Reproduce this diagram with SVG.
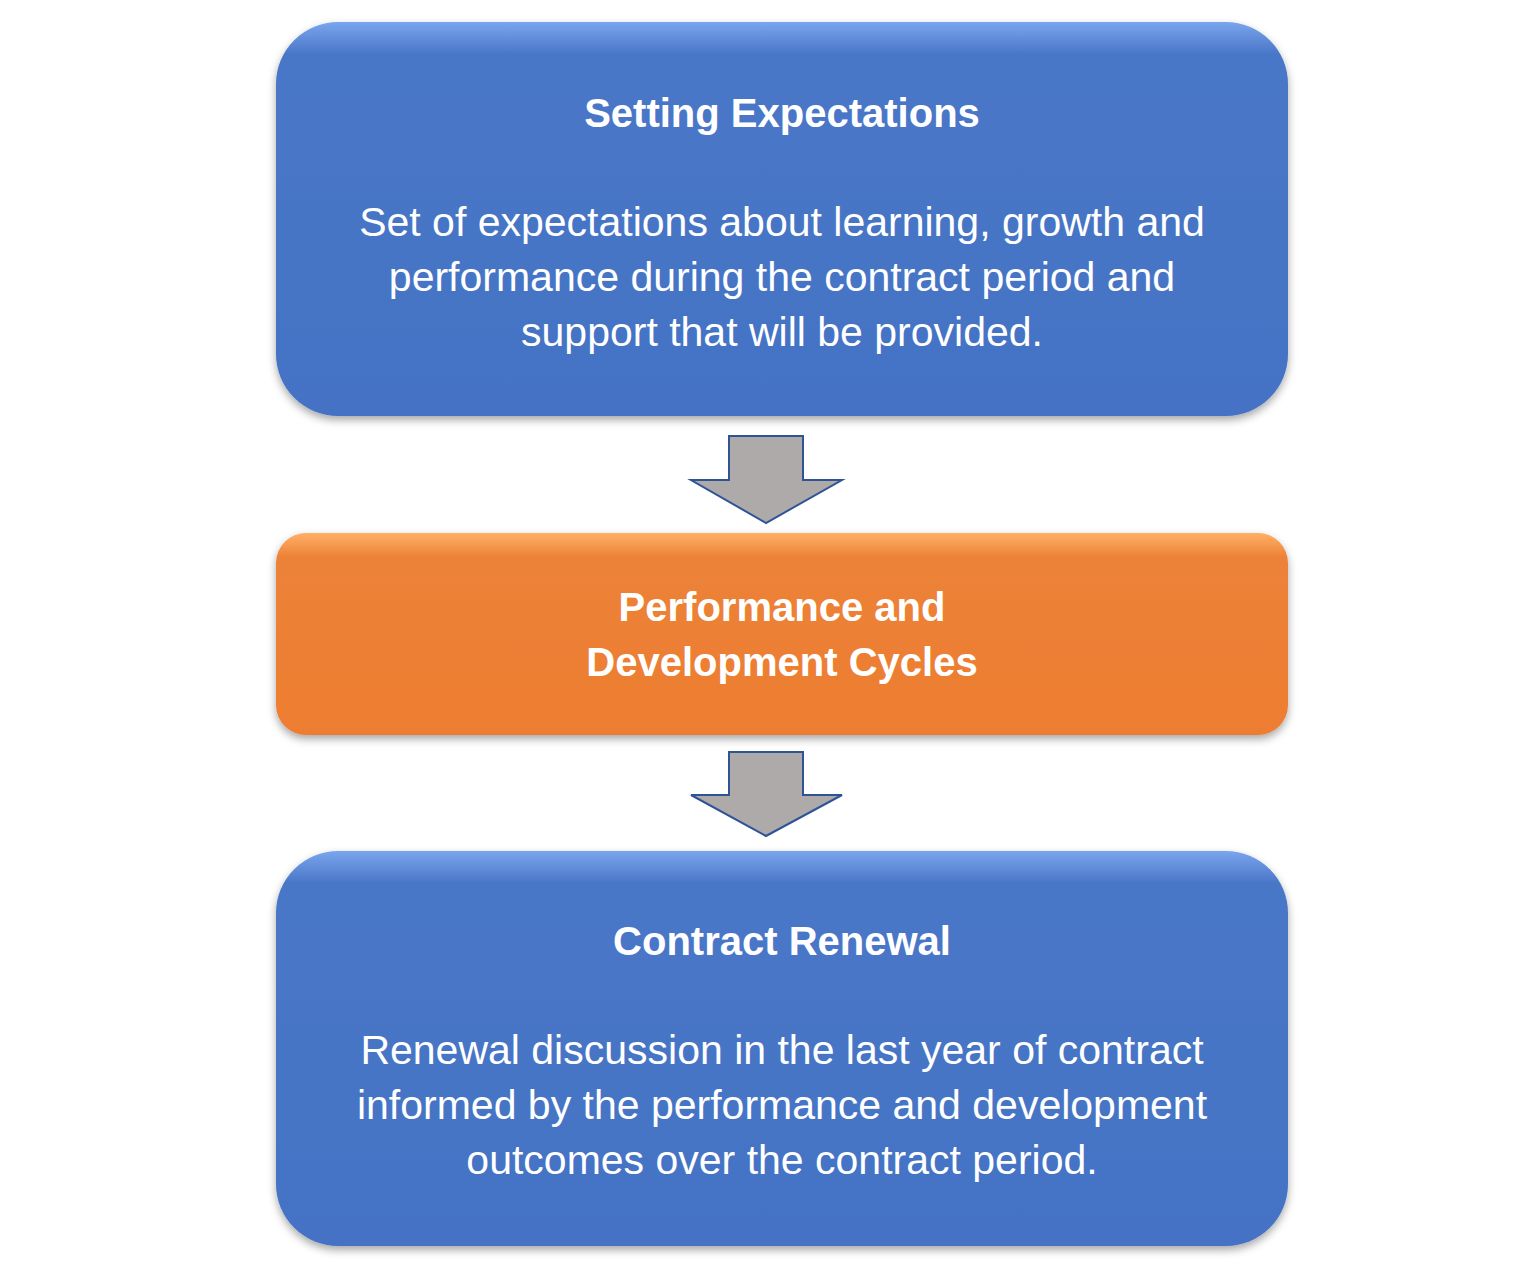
<svg xmlns="http://www.w3.org/2000/svg" width="1536" height="1266" viewBox="0 0 1536 1266">
<style>
.t{font-family:"Liberation Sans",Arial,sans-serif;fill:#fff;text-anchor:middle}
.h{font-size:40px;font-weight:bold}
.b{font-size:41px}
.arr{fill:#aeaaaa;stroke:#2f5496;stroke-width:2}
</style>
<defs>
<linearGradient id="gb" x1="0" y1="0" x2="0" y2="1">
<stop offset="0" stop-color="#7aa5ee"/><stop offset="0.08" stop-color="#4a77c8"/><stop offset="1" stop-color="#4472c4"/></linearGradient>
<linearGradient id="go" x1="0" y1="0" x2="0" y2="1">
<stop offset="0" stop-color="#ffb066"/><stop offset="0.12" stop-color="#ec8238"/><stop offset="1" stop-color="#ed7d31"/></linearGradient>
<filter id="sh" x="-5%" y="-5%" width="110%" height="115%"><feDropShadow dx="0" dy="4" stdDeviation="4" flood-color="#000" flood-opacity="0.35"/></filter>
</defs>
<rect width="1536" height="1266" fill="#fff"/>
<g id="n1">
<rect x="276" y="22" width="1012" height="394" rx="62" fill="url(#gb)" filter="url(#sh)"/>
<text class="t h" x="782" y="127">Setting Expectations</text>
<text class="t b" x="782" y="236">Set of expectations about learning, growth and</text>
<text class="t b" x="782" y="291">performance during the contract period and</text>
<text class="t b" x="782" y="346">support that will be provided.</text>
</g>
<g id="n2">
<rect x="276" y="533" width="1012" height="202" rx="30" fill="url(#go)" filter="url(#sh)"/>
<text class="t h" x="782" y="621">Performance and</text>
<text class="t h" x="782" y="676">Development Cycles</text>
</g>
<g id="n3">
<rect x="276" y="851" width="1012" height="395" rx="62" fill="url(#gb)" filter="url(#sh)"/>
<text class="t h" x="782" y="955">Contract Renewal</text>
<text class="t b" x="782" y="1064">Renewal discussion in the last year of contract</text>
<text class="t b" x="782" y="1119">informed by the performance and development</text>
<text class="t b" x="782" y="1174">outcomes over the contract period.</text>
</g>
<g id="connectors">
<path class="arr" d="M729,436 H803 V480 H842 L766,523 L691,480 H729 Z"/>
<path class="arr" d="M729,752 H803 V795 H842 L766,836 L691,795 H729 Z"/>
</g>
</svg>
